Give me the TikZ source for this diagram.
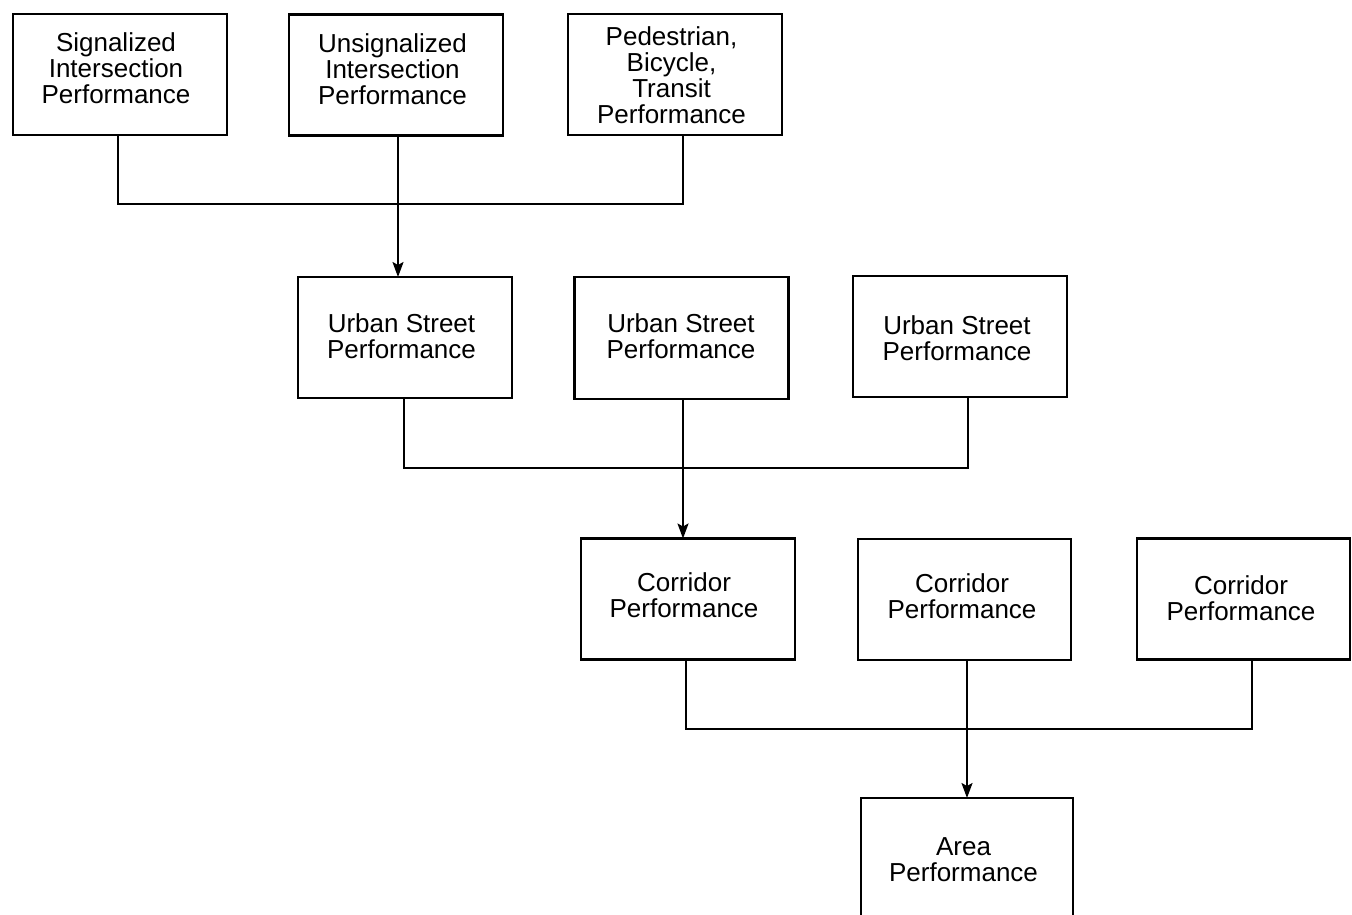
\documentclass[tikz,border=0pt]{standalone}
\usepackage{fontspec}
\setmainfont{Liberation Sans}
\usetikzlibrary{arrows.meta}
\begin{document}
\begin{tikzpicture}[x=1pt,y=-1pt,
  box/.style={draw, line width=2.2pt, fill=white, inner sep=0pt, outer sep=0pt,
              minimum width=214pt, minimum height=121pt},
  txt/.style={align=center, inner sep=0pt, font=\fontsize{26}{26}\selectfont},
  link/.style={line width=2pt},
  feed/.style={line width=2pt, -{Stealth[length=15pt, width=11pt, inset=3pt]}}]
\clip (0,0) rectangle (1352,914);
\fill[white] (0,0) rectangle (1352,914);

% intersection-level analyses
\node[box] (sig) at (120,74.5) {};
\node[txt] (sigt) at (116,68) {Signalized\\Intersection\\Performance};
\node[box] (uns) at (396,75) {};
\node[txt] (unst) at (392.5,69) {Unsignalized\\Intersection\\Performance};
\node[box] (ped) at (675,74.5) {};
\node[txt] (pedt) at (671.5,75) {Pedestrian,\\Bicycle,\\Transit\\Performance};

% street-level analyses
\node[box] (us1) at (405,337.5) {};
\node[txt] (us1t) at (401.5,336) {Urban Street\\Performance};
\node[box, minimum height=122pt] (us2) at (681.5,338) {};
\node[txt] (us2t) at (681,336) {Urban Street\\Performance};
\node[box] (us3) at (960,336.5) {};
\node[txt] (us3t) at (957,338.5) {Urban Street\\Performance};

% corridor-level analyses
\node[box] (cor1) at (688,599) {};
\node[txt] (cor1t) at (684,595) {Corridor\\Performance};
\node[box, minimum width=213pt] (cor2) at (964.5,599.5) {};
\node[txt] (cor2t) at (962,596.5) {Corridor\\Performance};
\node[box, minimum width=213pt] (cor3) at (1243.5,599) {};
\node[txt] (cor3t) at (1241,598.5) {Corridor\\Performance};

% area-level analysis
\node[box, minimum width=212pt] (area) at (967,858.5) {};
\node[txt] (areat) at (963.5,860) {Area\\Performance};

% connectors
\draw[link] ([xshift=-2pt]sig.south) -- ++(0,69) -| ([xshift=8pt]ped.south);
\draw[feed] ([xshift=2pt]uns.south) -- ([xshift=2pt]uns.south |- us1.north);

\draw[link] ([xshift=-1pt]us1.south) -- ++(0,70) -| ([xshift=8pt]us3.south);
\draw[feed] ([xshift=1.5pt]us2.south) -- ([xshift=1.5pt]us2.south |- cor1.north);

\draw[link] ([xshift=-2pt]cor1.south) -- ++(0,69) -| ([xshift=8.5pt]cor3.south);
\draw[feed] ([xshift=2.5pt]cor2.south) -- ([xshift=2.5pt]cor2.south |- area.north);
\end{tikzpicture}
\end{document}
